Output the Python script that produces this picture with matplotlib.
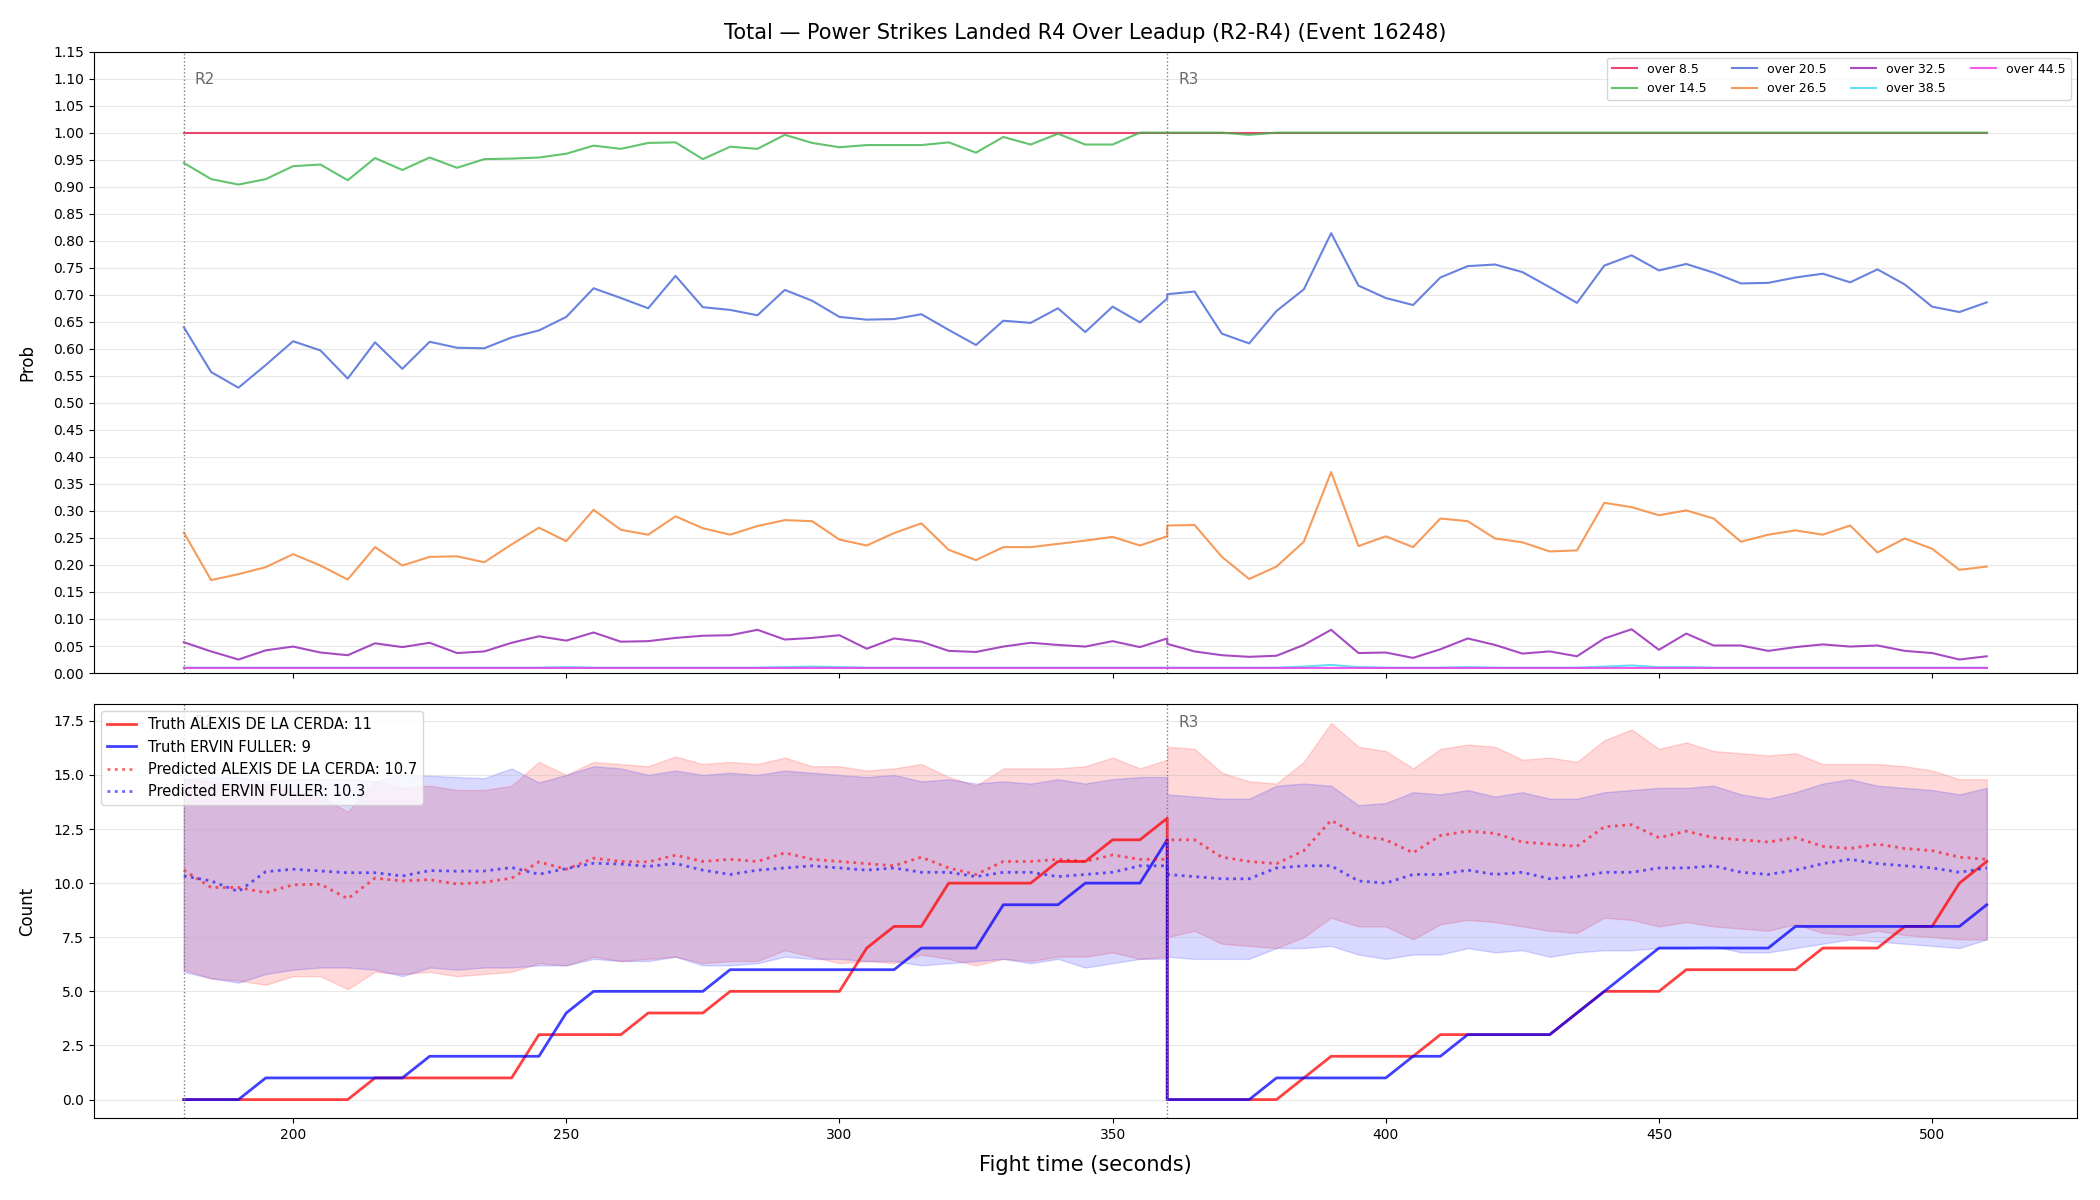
import numpy as np
import matplotlib
matplotlib.use("Agg")
import matplotlib.pyplot as plt

# time grid (seconds), round 2 and round 3 (360 appears in both)
t_r2 = list(range(180, 361, 5))
t_r3 = list(range(360, 511, 5))

# ---- top panel: over/under probabilities ----
lines = ["over 8.5", "over 14.5", "over 20.5", "over 26.5", "over 32.5", "over 38.5", "over 44.5"]
colors = ["#e6194b", "#3cb44b", "#4363d8", "#f58231", "#911eb4", "#42d4f4", "#f032e6"]

p85_r2 = [0.999, 0.999, 0.999, 0.999, 0.999, 0.999, 0.999, 0.999, 0.999, 0.999, 0.999, 0.999, 0.999,
          0.999, 0.999, 0.999, 0.999, 0.999, 0.999, 0.999, 0.999, 0.999, 0.999, 0.999, 0.999, 0.999,
          0.999, 0.999, 0.999, 0.999, 0.999, 0.999, 0.999, 0.999, 0.999, 0.999, 0.999]
p85_r3 = [0.999, 0.999, 0.999, 0.999, 0.999, 0.999, 0.999, 0.999, 0.999, 0.999, 0.999, 0.999, 0.999,
          0.999, 0.999, 0.999, 0.999, 0.999, 0.999, 0.999, 0.999, 0.999, 0.999, 0.999, 0.999, 0.999,
          0.999, 0.999, 0.999, 0.999, 0.999]
p145_r2 = [0.944, 0.914, 0.904, 0.914, 0.938, 0.941, 0.912, 0.953, 0.931, 0.954, 0.935, 0.951, 0.952,
           0.954, 0.961, 0.976, 0.970, 0.981, 0.982, 0.951, 0.974, 0.970, 0.996, 0.981, 0.973, 0.977,
           0.977, 0.977, 0.982, 0.963, 0.992, 0.978, 0.998, 0.978, 0.978, 1.0, 1.0]
p145_r3 = [1.0, 1.0, 1.0, 0.996, 1.0, 1.0, 1.0, 1.0, 1.0, 1.0, 1.0, 1.0, 1.0, 1.0, 1.0, 1.0,
           1.0, 1.0, 1.0, 1.0, 1.0, 1.0, 1.0, 1.0, 1.0, 1.0, 1.0, 1.0, 1.0, 1.0, 1.0]
p205_r2 = [0.640, 0.557, 0.528, 0.570, 0.614, 0.597, 0.545, 0.612, 0.563, 0.613, 0.602, 0.601, 0.621,
           0.634, 0.659, 0.712, 0.694, 0.675, 0.735, 0.677, 0.672, 0.662, 0.709, 0.689, 0.659, 0.654,
           0.655, 0.664, 0.635, 0.607, 0.652, 0.648, 0.675, 0.631, 0.678, 0.649, 0.693]
p205_r3 = [0.701, 0.706, 0.628, 0.610, 0.670, 0.710, 0.814, 0.717, 0.694, 0.681, 0.732, 0.753, 0.756,
           0.742, 0.714, 0.685, 0.754, 0.773, 0.745, 0.757, 0.741, 0.721, 0.722, 0.732, 0.739, 0.723,
           0.747, 0.719, 0.678, 0.668, 0.686]
p265_r2 = [0.260, 0.172, 0.183, 0.196, 0.220, 0.199, 0.173, 0.233, 0.199, 0.215, 0.216, 0.205, 0.238,
           0.269, 0.244, 0.302, 0.265, 0.256, 0.290, 0.268, 0.256, 0.272, 0.283, 0.281, 0.247, 0.236,
           0.259, 0.277, 0.228, 0.209, 0.233, 0.233, 0.239, 0.245, 0.252, 0.236, 0.253]
p265_r3 = [0.273, 0.274, 0.215, 0.174, 0.197, 0.243, 0.372, 0.235, 0.253, 0.233, 0.286, 0.281, 0.249,
           0.242, 0.225, 0.227, 0.315, 0.307, 0.292, 0.301, 0.286, 0.243, 0.256, 0.264, 0.256, 0.273,
           0.223, 0.249, 0.230, 0.191, 0.197]
p325_r2 = [0.057, 0.040, 0.025, 0.042, 0.049, 0.038, 0.033, 0.055, 0.048, 0.056, 0.037, 0.040, 0.056,
           0.068, 0.060, 0.075, 0.058, 0.059, 0.065, 0.069, 0.070, 0.080, 0.062, 0.065, 0.070, 0.045,
           0.064, 0.058, 0.041, 0.039, 0.049, 0.056, 0.052, 0.049, 0.059, 0.048, 0.064]
p325_r3 = [0.054, 0.040, 0.033, 0.030, 0.032, 0.052, 0.080, 0.037, 0.038, 0.028, 0.044, 0.064, 0.052,
           0.036, 0.040, 0.031, 0.064, 0.081, 0.043, 0.073, 0.051, 0.051, 0.041, 0.048, 0.053, 0.049,
           0.051, 0.041, 0.037, 0.025, 0.031]
p385_r2 = [0.010, 0.010, 0.010, 0.010, 0.010, 0.010, 0.010, 0.010, 0.010, 0.010, 0.010, 0.010, 0.010,
           0.010, 0.011, 0.010, 0.010, 0.010, 0.010, 0.010, 0.010, 0.010, 0.011, 0.012, 0.011, 0.010,
           0.010, 0.010, 0.010, 0.010, 0.010, 0.010, 0.010, 0.010, 0.010, 0.010, 0.010]
p385_r3 = [0.010, 0.010, 0.010, 0.010, 0.010, 0.012, 0.015, 0.011, 0.010, 0.010, 0.010, 0.011, 0.010,
           0.010, 0.010, 0.010, 0.012, 0.014, 0.011, 0.011, 0.010, 0.010, 0.010, 0.010, 0.010, 0.010,
           0.010, 0.010, 0.010, 0.010, 0.010]
p445_r2 = [0.009, 0.009, 0.009, 0.009, 0.009, 0.009, 0.009, 0.009, 0.009, 0.009, 0.009, 0.009, 0.009,
           0.009, 0.009, 0.009, 0.009, 0.009, 0.009, 0.009, 0.009, 0.009, 0.009, 0.009, 0.009, 0.009,
           0.009, 0.009, 0.009, 0.009, 0.009, 0.009, 0.009, 0.009, 0.009, 0.009, 0.009]
p445_r3 = [0.009, 0.009, 0.009, 0.009, 0.009, 0.009, 0.009, 0.009, 0.009, 0.009, 0.009, 0.009, 0.009,
           0.009, 0.009, 0.009, 0.009, 0.009, 0.009, 0.009, 0.009, 0.009, 0.009, 0.009, 0.009, 0.009,
           0.009, 0.009, 0.009, 0.009, 0.009]

probs = [(p85_r2, p85_r3), (p145_r2, p145_r3), (p205_r2, p205_r3), (p265_r2, p265_r3),
         (p325_r2, p325_r3), (p385_r2, p385_r3), (p445_r2, p445_r3)]

# ---- bottom panel: counts ----
name_a = "ALEXIS DE LA CERDA"
name_b = "ERVIN FULLER"
final_a, final_b = 11, 9
pred_final_a, pred_final_b = 10.7, 10.3

truth_a_r2 = [0, 0, 0, 0, 0, 0, 0, 1, 1, 1, 1, 1, 1, 3, 3, 3, 3, 4, 4, 4, 5, 5, 5, 5, 5, 7, 8, 8,
              10, 10, 10, 10, 11, 11, 12, 12, 13]
truth_a_r3 = [0, 0, 0, 0, 0, 1, 2, 2, 2, 2, 3, 3, 3, 3, 3, 4, 5, 5, 5, 6, 6, 6, 6, 6, 7, 7, 7, 8,
              8, 10, 11]
truth_b_r2 = [0, 0, 0, 1, 1, 1, 1, 1, 1, 2, 2, 2, 2, 2, 4, 5, 5, 5, 5, 5, 6, 6, 6, 6, 6, 6, 6, 7,
              7, 7, 9, 9, 9, 10, 10, 10, 12]
truth_b_r3 = [0, 0, 0, 0, 1, 1, 1, 1, 1, 2, 2, 3, 3, 3, 3, 4, 5, 6, 7, 7, 7, 7, 7, 8, 8, 8, 8, 8,
              8, 8, 9]

pred_a_r2 = [10.6, 9.8, 9.8, 9.56, 9.92, 9.95, 9.28, 10.23, 10.1, 10.16, 9.96, 10.04, 10.23, 10.98,
             10.64, 11.15, 11.0, 10.98, 11.29, 11.0, 11.1, 11.0, 11.4, 11.1, 11.0, 10.9, 10.8, 11.2,
             10.7, 10.4, 11.0, 11.0, 11.1, 11.0, 11.3, 11.1, 11.1]
pred_a_r3 = [12.0, 12.0, 11.2, 11.0, 10.9, 11.5, 12.9, 12.2, 12.0, 11.4, 12.2, 12.4, 12.3, 11.9,
             11.8, 11.7, 12.6, 12.7, 12.1, 12.4, 12.1, 12.0, 11.9, 12.1, 11.7, 11.6, 11.8, 11.6,
             11.5, 11.2, 11.1]
pred_b_r2 = [10.33, 10.1, 9.61, 10.53, 10.64, 10.56, 10.48, 10.48, 10.33, 10.58, 10.55, 10.56, 10.72,
             10.41, 10.67, 10.92, 10.88, 10.77, 10.91, 10.6, 10.4, 10.6, 10.7, 10.8, 10.7, 10.6,
             10.7, 10.5, 10.5, 10.3, 10.5, 10.5, 10.3, 10.4, 10.5, 10.8, 10.8]
pred_b_r3 = [10.4, 10.3, 10.2, 10.2, 10.7, 10.8, 10.8, 10.1, 10.0, 10.4, 10.4, 10.6, 10.4, 10.5,
             10.2, 10.3, 10.5, 10.5, 10.7, 10.7, 10.8, 10.5, 10.4, 10.6, 10.9, 11.1, 10.9, 10.8,
             10.7, 10.5, 10.7]

hi_a_r2 = [14.8, 14.7, 14.5, 14.6, 14.2, 14.0, 13.3, 14.7, 14.4, 14.5, 14.3, 14.3, 14.5, 15.6, 15.0,
           15.6, 15.5, 15.4, 15.85, 15.5, 15.6, 15.5, 15.8, 15.4, 15.4, 15.2, 15.3, 15.5, 14.9, 14.5,
           15.3, 15.3, 15.3, 15.4, 15.8, 15.3, 15.7]
hi_a_r3 = [16.3, 16.2, 15.1, 14.7, 14.6, 15.6, 17.4, 16.3, 16.1, 15.3, 16.2, 16.4, 16.3, 15.7, 15.8,
           15.6, 16.6, 17.1, 16.2, 16.5, 16.1, 16.0, 15.9, 16.0, 15.5, 15.5, 15.5, 15.4, 15.2, 14.8,
           14.8]
lo_a_r2 = [6.0, 5.6, 5.5, 5.3, 5.7, 5.7, 5.1, 5.9, 5.8, 5.9, 5.7, 5.8, 5.9, 6.3, 6.2, 6.6, 6.4, 6.5,
           6.6, 6.3, 6.4, 6.4, 6.9, 6.6, 6.3, 6.4, 6.3, 6.7, 6.5, 6.2, 6.5, 6.4, 6.6, 6.6, 6.8, 6.5, 6.6]
lo_a_r3 = [7.5, 7.8, 7.2, 7.1, 7.0, 7.5, 8.4, 8.0, 8.0, 7.4, 8.1, 8.3, 8.2, 8.0, 7.8, 7.7, 8.4, 8.3,
           8.0, 8.2, 8.0, 7.9, 7.8, 8.1, 7.7, 7.6, 7.8, 7.6, 7.5, 7.4, 7.4]
hi_b_r2 = [14.8, 14.9, 14.9, 14.7, 14.8, 14.8, 14.8, 14.7, 15.0, 14.96, 14.9, 14.85, 15.3, 14.65, 15.0,
           15.4, 15.3, 15.0, 15.2, 15.0, 15.1, 15.0, 15.2, 15.1, 15.0, 14.9, 15.0, 14.7, 14.8, 14.6,
           14.7, 14.6, 14.8, 14.6, 14.8, 14.9, 14.9]
hi_b_r3 = [14.1, 14.0, 13.9, 13.9, 14.5, 14.6, 14.5, 13.6, 13.7, 14.2, 14.1, 14.3, 14.0, 14.2, 13.9,
           13.9, 14.2, 14.3, 14.4, 14.4, 14.5, 14.1, 13.9, 14.2, 14.6, 14.8, 14.5, 14.4, 14.3, 14.1,
           14.4]
lo_b_r2 = [5.9, 5.6, 5.4, 5.8, 6.0, 6.1, 6.1, 6.0, 5.7, 6.1, 6.0, 6.1, 6.1, 6.2, 6.2, 6.5, 6.4, 6.4,
           6.6, 6.2, 6.2, 6.3, 6.6, 6.5, 6.5, 6.4, 6.4, 6.2, 6.3, 6.4, 6.5, 6.3, 6.5, 6.1, 6.3, 6.5, 6.5]
lo_b_r3 = [6.6, 6.5, 6.5, 6.5, 7.0, 7.0, 7.1, 6.7, 6.5, 6.7, 6.7, 7.0, 6.8, 6.9, 6.6, 6.8, 6.9, 6.9,
           7.0, 7.0, 7.1, 6.8, 6.8, 7.0, 7.2, 7.4, 7.3, 7.2, 7.1, 7.0, 7.4]

round_starts = [180, 360]
round_names = ["R2", "R3"]

t = np.array(t_r2 + t_r3)

fig, (ax1, ax2) = plt.subplots(2, 1, figsize=(21, 12), dpi=100, sharex=True,
                               gridspec_kw={"height_ratios": [3, 2]})
fig.subplots_adjust(left=0.0446, right=0.989, top=0.957, bottom=0.068, hspace=0.06)

for lab, col, (a, b) in zip(lines, colors, probs):
    ax1.plot(t, a + b, color=col, lw=1.5, alpha=0.8, label=lab)

ax1.set_ylim(0, 1.15)
ax1.set_yticks(np.arange(0, 1.151, 0.05))
ax1.set_ylabel("Prob", fontsize=12, labelpad=12)
ax1.grid(axis="y", alpha=0.3)
ax1.legend(loc="upper right", ncol=4, fontsize=9)
ax1.set_title("Total \u2014 Power Strikes Landed R4 Over Leadup (R2-R4) (Event 16248)", fontsize=15, pad=9)

ax2.fill_between(t, lo_a_r2 + lo_a_r3, hi_a_r2 + hi_a_r3, color="red", alpha=0.15)
ax2.fill_between(t, lo_b_r2 + lo_b_r3, hi_b_r2 + hi_b_r3, color="blue", alpha=0.15)
ax2.plot(t, truth_a_r2 + truth_a_r3, color="red", lw=2, alpha=0.75, label=f"Truth {name_a}: {final_a}")
ax2.plot(t, truth_b_r2 + truth_b_r3, color="blue", lw=2, alpha=0.75, label=f"Truth {name_b}: {final_b}")
ax2.plot(t, pred_a_r2 + pred_a_r3, color="red", lw=2, ls=":", alpha=0.6,
         label=f"Predicted {name_a}: {pred_final_a}")
ax2.plot(t, pred_b_r2 + pred_b_r3, color="blue", lw=2, ls=":", alpha=0.6,
         label=f"Predicted {name_b}: {pred_final_b}")
ax2.set_ylabel("Count", fontsize=12, labelpad=12)
ax2.set_xlabel("Fight time (seconds)", fontsize=15, labelpad=9)
ax2.grid(axis="y", alpha=0.3)
ax2.legend(loc="upper left", fontsize=10.5)

for ax in (ax1, ax2):
    for x0, nm in zip(round_starts, round_names):
        ax.axvline(x0, color="gray", ls=":", lw=1)
        ax.text(x0 + 2, 0.955, nm, transform=ax.get_xaxis_transform(), color="dimgray",
                fontsize=11, va="center", ha="left")

fig.savefig("out.png")
